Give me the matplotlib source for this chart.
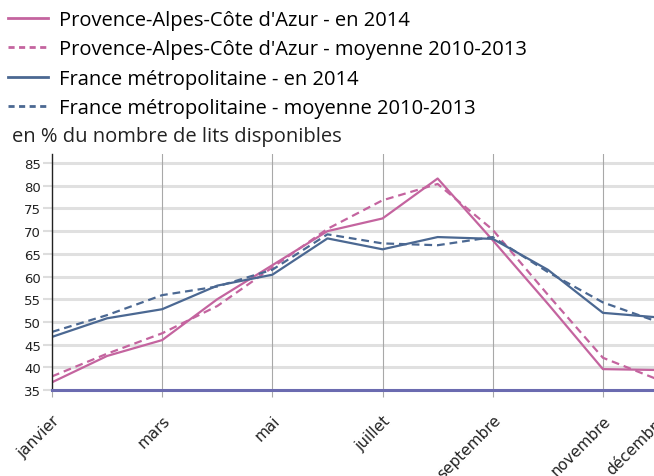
import numpy as np
import matplotlib.pyplot as plt
from matplotlib.lines import Line2D

# monthly occupancy, % of available beds
mois = ["janvier", "février", "mars", "avril", "mai", "juin", "juillet",
        "août", "septembre", "octobre", "novembre", "décembre"]
paca_2014 = [36.7, 42.5, 46.0, 55.0, 62.5, 70.0, 72.8, 81.6, 68.0, 54.0, 39.6, 39.4]
paca_moy = [38.0, 43.0, 47.5, 53.5, 62.0, 70.5, 76.8, 80.4, 70.3, 56.0, 42.1, 37.3]
france_2014 = [46.7, 50.8, 52.8, 58.0, 60.4, 68.4, 66.0, 68.7, 68.3, 61.5, 52.0, 51.0]
france_moy = [47.8, 51.5, 55.9, 57.8, 61.5, 69.3, 67.3, 66.9, 68.7, 61.0, 54.3, 50.0]
labels = ["Provence-Alpes-Côte d'Azur - en 2014",
          "Provence-Alpes-Côte d'Azur - moyenne 2010-2013",
          "France métropolitaine - en 2014",
          "France métropolitaine - moyenne 2010-2013"]

pink = '#c4649f'
blue = '#4b6892'

fig = plt.figure(figsize=(6.54, 4.77), dpi=100)
ax = fig.add_axes([52 / 654, 86 / 477, 606 / 654, 236 / 477])

x = np.arange(1, 13)
dash = (0, (3.5, 2.2))
ax.plot(x, paca_2014, color=pink, lw=1.6)
ax.plot(x, paca_moy, color=pink, lw=1.6, linestyle=dash)
ax.plot(x, france_2014, color=blue, lw=1.6)
ax.plot(x, france_moy, color=blue, lw=1.6, linestyle=dash)

ax.set_xlim(1, 12)
ax.set_ylim(35, 87)
ax.set_yticks(range(35, 90, 5))
ax.set_xticks(x[::2].tolist() + [12])
ax.set_xticklabels([mois[i - 1] for i in x[::2]] + [mois[11]])

for y in range(40, 90, 5):
    ax.axhline(y, color='#e0e0e0', lw=2.2, zorder=0)
for m in x[2::2]:
    ax.axvline(m, color='#a8a8a8', lw=0.8, zorder=0)
ax.axhline(35, color='#6b6bb0', lw=2.2, zorder=3, clip_on=False)

for s in ['top', 'right', 'bottom']:
    ax.spines[s].set_visible(False)
ax.spines['left'].set_color('#222222')
ax.spines['left'].set_linewidth(1.0)

ax.tick_params(axis='y', length=6.5, color='#dddddd', width=1.5, labelsize=9.5,
               labelcolor='#222222', pad=1.5)
ax.tick_params(axis='x', length=5, color='#a8a8a8', width=0.8, labelsize=11,
               labelcolor='#222222', pad=11)
for lab in ax.get_xticklabels():
    lab.set_rotation(45)
    lab.set_ha('right')
    lab.set_va('top')
    lab.set_rotation_mode('anchor')

handles = [Line2D([], [], color=pink, lw=2),
           Line2D([], [], color=pink, lw=2, linestyle=(0, (2.2, 1.6))),
           Line2D([], [], color=blue, lw=2),
           Line2D([], [], color=blue, lw=2, linestyle=(0, (2.2, 1.6)))]
fig.legend(handles, labels, loc='upper left', bbox_to_anchor=(4 / 654, 1 - 7 / 477),
           frameon=False, prop={'family': 'Open Sans', 'size': 14.5},
           handlelength=2.0, handletextpad=0.55, labelspacing=0.47,
           borderaxespad=0, borderpad=0.2)
fig.text(12 / 654, 1 - 137 / 477, "en % du nombre de lits disponibles",
         family='Open Sans', fontsize=14.5, va='center', ha='left', color='#222222')

fig.savefig('out.png', dpi=100)
